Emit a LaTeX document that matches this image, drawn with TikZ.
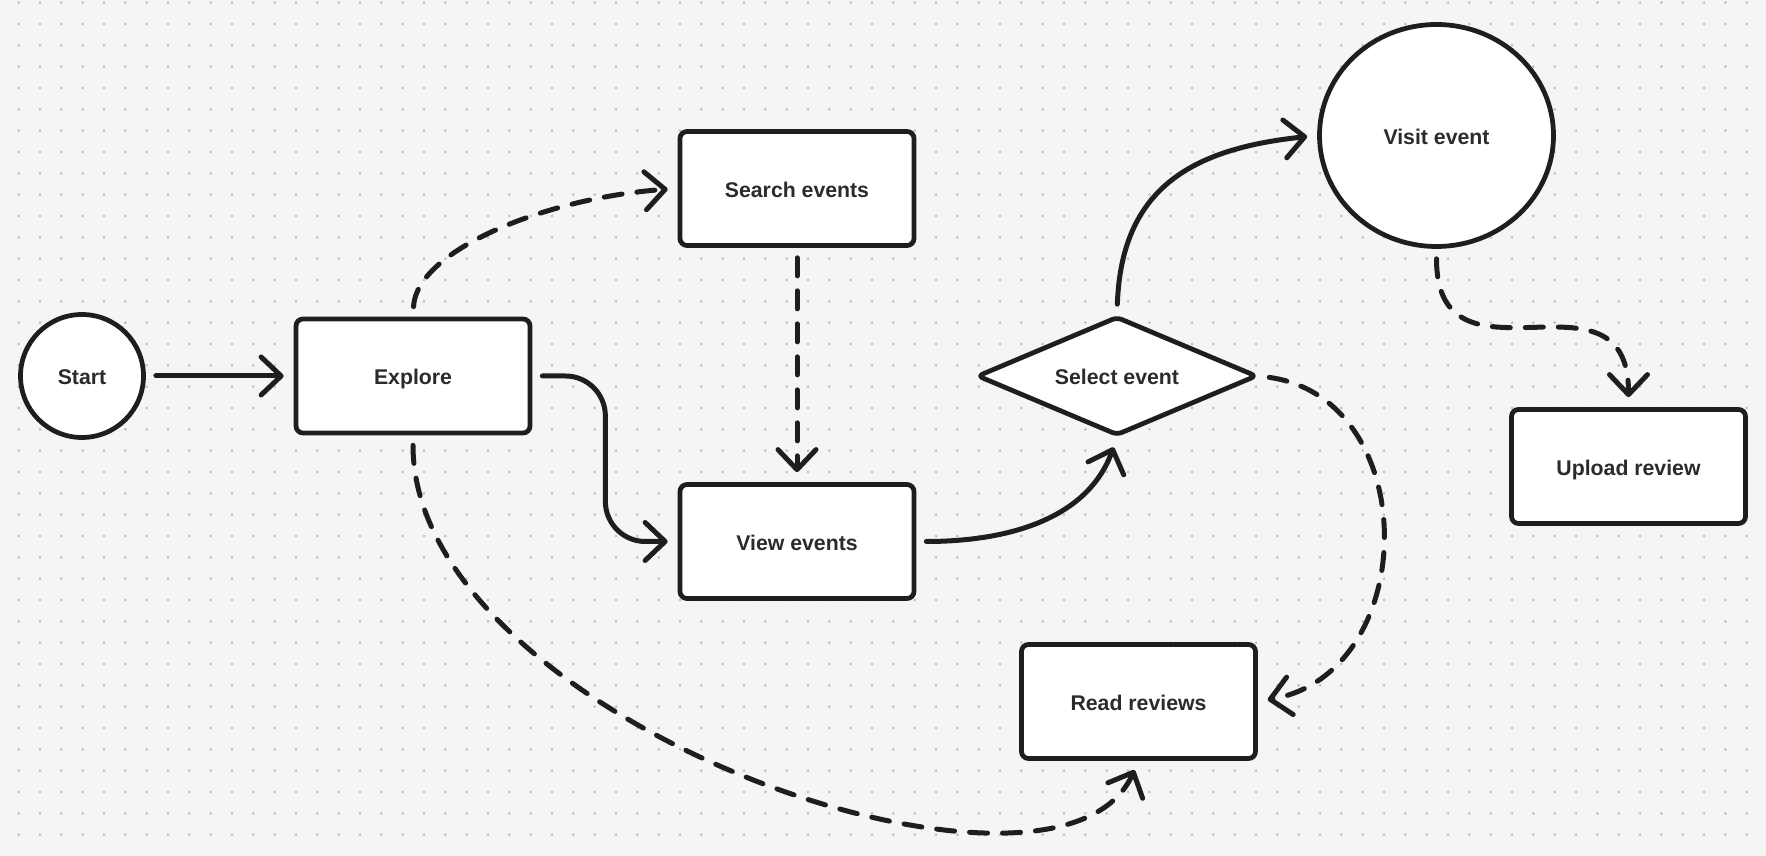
\documentclass[tikz,border=0pt]{standalone}
\usepackage{fontspec}
\setmainfont{Liberation Sans}
\usepackage{tikz}
\usetikzlibrary{positioning,arrows.meta,shapes.geometric}

\definecolor{ink}{HTML}{1E1E1E}
\definecolor{txt}{HTML}{2B2B2B}
\definecolor{paper}{HTML}{F5F5F5}
\definecolor{dotgray}{HTML}{BDBDBD}

\tikzset{
  label font/.style={text=txt, font=\fontsize{12.1pt}{14pt}\selectfont\bfseries,
    text height=0.97em, text depth=0pt},
  box/.style={draw=ink, fill=white, line width=0.095cm, rounded corners=4pt,
    minimum width=4.68cm, minimum height=2.28cm, inner sep=0pt, label font},
  terminal/.style={circle, draw=ink, fill=white, line width=0.095cm,
    minimum size=2.46cm, inner sep=0pt, label font},
  bigoval/.style={ellipse, draw=ink, fill=white, line width=0.095cm,
    minimum width=4.68cm, minimum height=4.44cm, inner sep=0pt, label font},
  choice/.style={diamond, aspect=2.37, draw=ink, fill=white, line width=0.095cm,
    rounded corners=3pt, minimum width=5.6cm, minimum height=2.38cm, inner sep=0pt, label font},
  flow/.style={-{Straight Barb[length=0.4cm, width=0.76cm, line cap=round, line join=round]},
    draw=ink, line width=0.1cm, line cap=round, shorten <=0.2cm, shorten >=0.2cm},
  dashflow/.style={flow, dash pattern=on 0.36cm off 0.3cm},
  dotrow/.style={draw=dotgray, line width=0.058cm, line cap=round, dash pattern=on 0pt off 0.4267cm}
}

\begin{document}
\begin{tikzpicture}
\useasboundingbox (0,0) rectangle (35.32,17.12);
\fill[paper] (0,0) rectangle (35.32,17.12);

% dotted canvas
\foreach \r in {0,...,39}
  \draw[dotrow] (0.373,{17.067-0.4267*\r}) -- (35.32,{17.067-0.4267*\r});

% left part
\node[terminal] (start) at (1.64,9.60) {Start};
\node[box] (explore) at (8.26,9.60) {Explore};

% middle column
\node[box] (search) at (15.94,13.35) {Search events};
\node[box] (view) at (15.94,6.29) {View events};

% decision and outcomes
\node[choice] (select) at (22.34,9.60) {Select event};
\node[box] (read) at (22.77,3.09) {Read reviews};
\node[bigoval] (visit) at (28.73,14.41) {Visit event};
\node[box] (upload) at (32.57,7.79) {Upload review};

% solid arrows
\draw[flow] (start) -- (explore);
\draw[flow, rounded corners=0.8cm] (explore.east) -- ++(1.46,0) |- (view.west);
\draw[flow] (view.east) to[out=0, in=250] (select.south);
\draw[flow] (select.north) to[out=88, in=186, looseness=1.2] (visit.west);

% dashed arrows
\draw[dashflow] (explore.north) to[out=87, in=184, out distance=1.34cm, in distance=2.6cm] (search.west);
\draw[dashflow] (search) -- (view);
\draw[dashflow] (select.east) to[out=-8, in=10, looseness=1.3] (read.east);
\draw[dashflow] (explore.south) to[out=-90, in=246, out distance=5.7cm, in distance=4cm] (read.south);
\draw[dashflow] (visit.south) to[out=-90, in=90, looseness=1.55] (upload.north);
\end{tikzpicture}
\end{document}
